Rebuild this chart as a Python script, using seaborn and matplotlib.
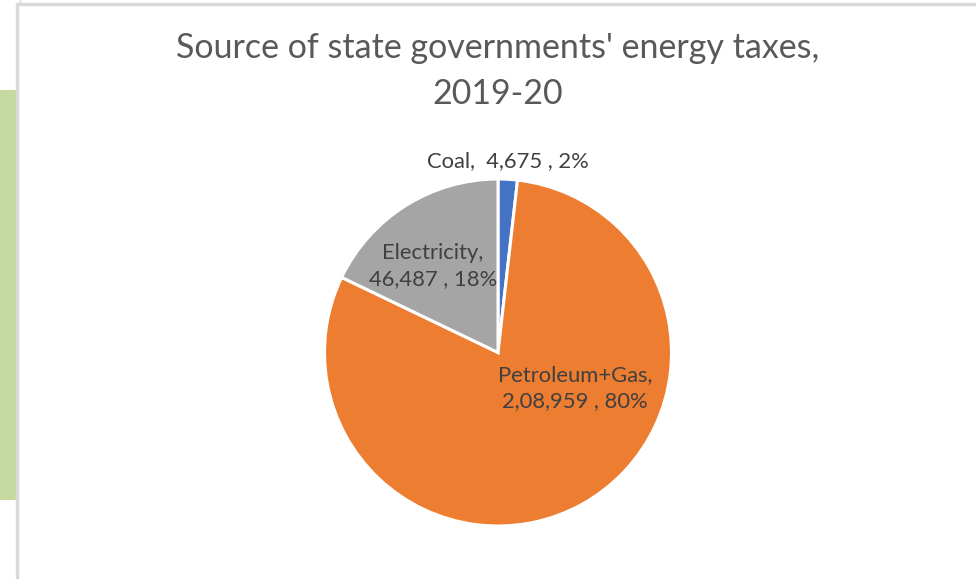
import matplotlib
matplotlib.use("Agg")
import matplotlib.pyplot as plt
from matplotlib.patches import Rectangle
from matplotlib.lines import Line2D
import seaborn as sns

# Energy tax sources, state governments 2019-20 (Rs crore)
sources = ["Coal", "Petroleum+Gas", "Electricity"]
amounts = [4675, 208959, 46487]
title_text = "Source of state governments' energy taxes,\n2019-20"

sns.set_theme(style="white")
plt.rcParams["font.family"] = ["Lato", "DejaVu Sans"]

colors = ["#4472C4", "#ED7D31", "#A5A5A5"]


def indian_format(n):
    s = str(int(n))
    if len(s) <= 3:
        return s
    head, tail = s[:-3], s[-3:]
    groups = []
    while len(head) > 2:
        groups.insert(0, head[-2:])
        head = head[:-2]
    if head:
        groups.insert(0, head)
    return ",".join(groups) + "," + tail


W, H = 976, 579
fig = plt.figure(figsize=(W / 100, H / 100), dpi=100)
fig.patch.set_facecolor("white")

# side strip and chart frame
fig.add_artist(Rectangle((0, 1 - 500 / H), 16 / W, 410 / H, transform=fig.transFigure,
                         facecolor="#C6D9A0", edgecolor="none"))
fig.add_artist(Line2D([17 / W, 17 / W], [0, 1 - 4 / H], transform=fig.transFigure,
                      color="#D9D9D9", lw=2.5))
fig.add_artist(Line2D([17 / W, 1], [1 - 4 / H, 1 - 4 / H], transform=fig.transFigure,
                      color="#D9D9D9", lw=2.5))
fig.add_artist(Line2D([20 / W, 20 / W], [1 - 3 / H, 1], transform=fig.transFigure,
                      color="#D9D9D9", lw=1))

cx, cy, r = 498, 352.5, 173.5
ax = fig.add_axes([(cx - r) / W, 1 - (cy + r) / H, 2 * r / W, 2 * r / H])
ax.pie(amounts, colors=colors, startangle=90, counterclock=False, radius=1,
       wedgeprops=dict(edgecolor="white", linewidth=2.2))
ax.set_xlim(-1, 1)
ax.set_ylim(-1, 1)
ax.set_aspect("equal")
ax.axis("off")

total = sum(amounts)
pcts = [round(a / total * 100) for a in amounts]
label_color = "#404040"
fs = 15.8


def px(x, y):
    return (x - cx) / r, (cy - y) / r


ax.text(*px(508, 161), f"{sources[0]},  {indian_format(amounts[0])} , {pcts[0]}%",
        ha="center", va="center", fontsize=fs, color=label_color)
ax.text(*px(575, 388), f"{sources[1]},\n{indian_format(amounts[1])} , {pcts[1]}%",
        ha="center", va="center", fontsize=fs, color=label_color, linespacing=1.35)
ax.text(*px(433, 266), f"{sources[2]},\n{indian_format(amounts[2])} , {pcts[2]}%",
        ha="center", va="center", fontsize=fs, color=label_color, linespacing=1.35)

fig.text(498 / W, 1 - 71 / H, title_text, ha="center", va="center", fontsize=24.5,
         color="#595959", linespacing=1.5)

fig.savefig("out.png", dpi=100)
